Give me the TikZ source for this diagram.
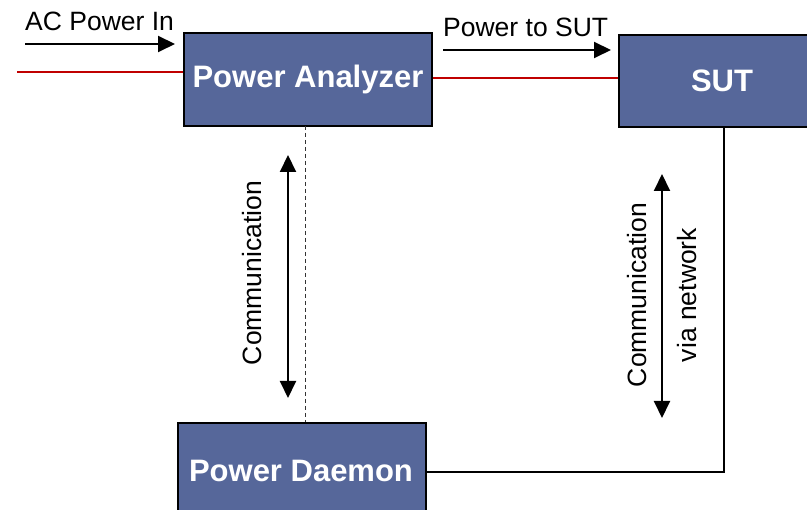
\documentclass[tikz,border=0pt]{standalone}
\usepackage{fontspec}
\setmainfont{Liberation Sans}
\usetikzlibrary{arrows.meta}
\definecolor{boxfill}{RGB}{86,103,154}
\definecolor{powerred}{RGB}{192,0,0}
\tikzset{
  blockbox/.style={draw=black, line width=2pt, fill=boxfill, text=white,
    font=\fontsize{31}{36}\selectfont\bfseries, inner sep=0pt},
  lbl/.style={font=\fontsize{26.5}{30}\selectfont, text=black, inner sep=0pt},
  flow/.style={line width=2pt, -{Triangle[length=17pt,width=16pt]}},
  biflow/.style={line width=2pt, {Triangle[length=17pt,width=16pt]}-{Triangle[length=17pt,width=16pt]}},
  redline/.style={draw=powerred, line width=2pt},
  netline/.style={draw=black, line width=2pt},
  dashline/.style={draw=black!80, line width=1pt, dash pattern=on 4pt off 3pt}
}
\begin{document}
\begin{tikzpicture}[x=1pt,y=-1pt]
\useasboundingbox (0,0) rectangle (807,510);
\clip (0,0) rectangle (807,510);
\fill[white] (0,0) rectangle (807,510);
% blocks
\node[blockbox, minimum width=248pt, minimum height=93pt] (pa) at (308,79.5) {Power Analyzer};
\node[blockbox, minimum width=208pt, minimum height=92pt, anchor=west] (sut) at (618,81) {};
\node[white, font=\fontsize{31}{36}\selectfont\bfseries, inner sep=0pt] (suttext) at (722,81) {SUT};
\node[blockbox, minimum width=248pt, minimum height=96pt, anchor=north] (pd) at (302,422) {};
\node[white, font=\fontsize{31}{36}\selectfont\bfseries, inner sep=0pt] (pdtext) at (301,471) {Power Daemon};
% labels
\node[lbl, anchor=west] (aclbl) at (25,21) {AC Power In};
\node[lbl, anchor=west] (pslbl) at (443,27) {Power to SUT};
\node[lbl, rotate=90] (comm1) at (252,273) {Communication};
\node[lbl, rotate=90] (comm2) at (637,295) {Communication};
\node[lbl, rotate=90] (comm3) at (687,295) {via network};
% coordinates
\coordinate (acstart) at (17,72);
\coordinate (acarrowA) at (25,44);
\coordinate (acarrowB) at (175,44);
\coordinate (psA) at (443,50);
\coordinate (psB) at (611,50);
\coordinate (dashtop) at (305.5,126);
\coordinate (dashbot) at (305.5,422);
\coordinate (c1top) at (288,155);
\coordinate (c1bot) at (288,398);
\coordinate (c2top) at (662,174);
\coordinate (c2bot) at (662,418);
\coordinate (corner) at (724,472);
% power lines
\draw[redline] (acstart) -- (acstart -| pa.west);
\draw[redline] (pa.east |- 0,78) -- (sut.west |- 0,78);
% arrows
\draw[flow] (acarrowA) -- (acarrowB);
\draw[flow] (psA) -- (psB);
\draw[biflow] (c1top) -- (c1bot);
\draw[biflow] (c2top) -- (c2bot);
% communication lines
\draw[dashline] (dashtop) -- (dashbot);
\draw[netline] (sut.south -| corner) -- (corner) -- (pd.east |- corner);
\end{tikzpicture}
\end{document}
